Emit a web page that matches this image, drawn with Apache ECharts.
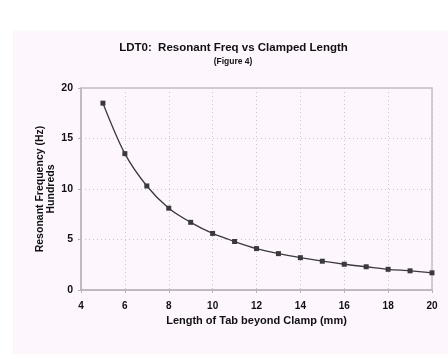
<!DOCTYPE html>
<html>
<head>
<meta charset="utf-8">
<script src="https://cdn.jsdelivr.net/npm/echarts@6/dist/echarts.min.js"></script>
<style>
  html, body { margin: 0; padding: 0; background: #fff; }
  #main { width: 448px; height: 359px; }
</style>
</head>
<body>
<div id="main"></div>
<script>
// tab length (mm) and resonant frequency (hundreds of Hz)
var lengths = [5, 6, 7, 8, 9, 10, 11, 12, 13, 14, 15, 16, 17, 18, 19, 20];
var freqs = [18.5, 13.5, 10.3, 8.1, 6.7, 5.6, 4.8, 4.1, 3.6, 3.2, 2.85, 2.55, 2.3, 2.05, 1.9, 1.7];

var font = 'Liberation Sans, Arial, sans-serif';
var chart = echarts.init(document.getElementById('main'));

var points = lengths.map(function (x, i) { return [x, freqs[i]]; });

chart.setOption({
  animation: false,
  graphic: [{
    type: 'rect',
    shape: { x: 13, y: 31, width: 435, height: 323 },
    style: { fill: '#fdf7fd' },
    z: -10
  }, {
    type: 'text',
    x: 233.5,
    y: 47.5,
    style: {
      text: 'LDT0:  Resonant Freq vs Clamped Length',
      font: 'bold 11.5px ' + font,
      fill: '#111',
      align: 'center',
      verticalAlign: 'middle'
    }
  }, {
    type: 'text',
    x: 233,
    y: 62,
    style: {
      text: '(Figure 4)',
      font: 'bold 8.5px ' + font,
      fill: '#111',
      align: 'center',
      verticalAlign: 'middle'
    }
  }],
  grid: { left: 81, right: 16, top: 88, bottom: 69, show: true, borderColor: '#c4c0c4', borderWidth: 1.5, backgroundColor: 'transparent' },
  xAxis: {
    type: 'value',
    min: 4,
    max: 20,
    interval: 2,
    name: 'Length of Tab beyond Clamp (mm)',
    nameLocation: 'middle',
    nameGap: 25,
    nameTextStyle: { fontFamily: font, fontWeight: 'bold', fontSize: 11, color: '#111' },
    axisLine: { lineStyle: { color: '#b8b4b8', width: 1.5 } },
    axisTick: { length: 3, lineStyle: { color: '#b8b4b8' } },
    axisLabel: { fontFamily: font, fontWeight: 'bold', fontSize: 10, color: '#111', margin: 11 },
    splitLine: { lineStyle: { color: '#c8c4c8', type: [1, 3] } }
  },
  yAxis: {
    type: 'value',
    min: 0,
    max: 20,
    interval: 5,
    name: 'Resonant Frequency (Hz)\nHundreds',
    nameLocation: 'middle',
    nameGap: 24,
    nameMoveOverlap: false,
    nameTextStyle: { fontFamily: font, fontWeight: 'bold', fontSize: 10.5, color: '#111', lineHeight: 11 },
    axisLine: { show: true, lineStyle: { color: '#b8b4b8', width: 1.5 } },
    axisTick: { show: true, length: 3, lineStyle: { color: '#b8b4b8' } },
    axisLabel: { fontFamily: font, fontWeight: 'bold', fontSize: 10.5, color: '#111', margin: 8 },
    splitLine: { lineStyle: { color: '#c8c4c8', type: [1, 3] } }
  },
  series: [{
    type: 'line',
    data: points,
    smooth: 0.3,
    symbol: 'rect',
    symbolSize: 5,
    itemStyle: { color: '#3a3a3a' },
    lineStyle: { color: '#3a3a3a', width: 1.3 }
  }]
});
</script>
</body>
</html>
